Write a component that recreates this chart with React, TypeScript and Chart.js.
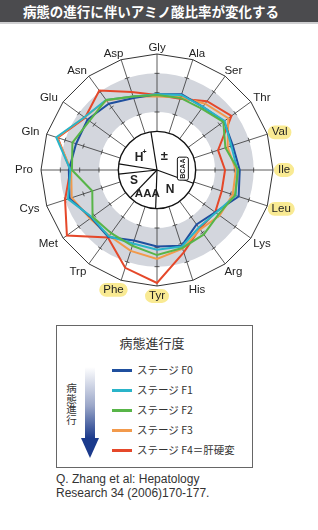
import React, { useEffect, useRef } from 'react';
import { Chart, registerables, RadialLinearScale } from 'chart.js';

// ---------- data ----------
const AMINO_ACIDS = ['Gly', 'Ala', 'Ser', 'Thr', 'Val', 'Ile', 'Leu', 'Lys', 'Arg', 'His', 'Tyr', 'Phe', 'Trp', 'Met', 'Cys', 'Pro', 'Gln', 'Glu', 'Asn', 'Asp'];
const HIGHLIGHTED_ACIDS = ['Val', 'Ile', 'Leu', 'Tyr', 'Phe'];

const STAGE_F0 = [98, 103, 101, 107, 103, 107, 111, 93, 87, 103, 99, 96, 107, 105, 119, 114, 110, 111, 106, 98];
const STAGE_F1 = [98, 102, 101, 108, 101, 104, 107, 94, 92, 104, 103, 100, 106, 104, 121, 112, 137, 116, 112, 100];
const STAGE_F2 = [97, 98, 98, 106, 93, 105, 106, 98, 103, 106, 110, 103, 101, 103, 88, 110, 115, 108, 112, 100];
const STAGE_F3 = [95, 99, 106, 114, 96, 102, 103, 100, 95, 107, 115, 110, 105, 107, 116, 111, 136, 116, 111, 100];
const STAGE_F4 = [97, 97, 110, 119, 83, 88, 88, 93, 94, 112, 146, 133, 108, 144, 125, 112, 135, 115, 127, 106];

const STAGE_NAMES = ['ステージ F0', 'ステージ F1', 'ステージ F2', 'ステージ F3', 'ステージ F4＝肝硬変'];
const STAGE_VALUES = [STAGE_F0, STAGE_F1, STAGE_F2, STAGE_F3, STAGE_F4];
const STAGE_COLORS = ['#1f4f9e', '#2ab4c9', '#58b548', '#f29a4c', '#e5482a'];
const STAGE_DRAW_ORDER = [2, 1, 0, 3, 4]; // lower = drawn on top

const SCALE_MIN = 0;
const SCALE_MAX = 150;
const CENTER_DISC_VALUE = 50;
const NORMAL_LOW = 75;
const NORMAL_HIGH = 125;
const SPOKE_TICKS = [75, 100, 125];

const PIE_DIVIDERS_DEG = [351, 110, 182, 224, 264, 279];

// ---------- layout / style ----------
const CENTER_X = 157;
const CENTER_Y = 146; // canvas is placed 24px below page top
const RADIUS = 116;
const LABEL_GAP = 5;
const LATIN = "'Liberation Sans Narrow', 'Liberation Sans', Arial, sans-serif";
const LATIN_WIDE = "'Liberation Sans', Arial, sans-serif";
const CJK = "'Noto Sans CJK JP', 'Noto Sans', sans-serif";
const BAND_COLOR = '#d3d6dd';
const PILL_COLOR = '#f9ea93';
const INK = '#222';

class FixedRadialScale extends RadialLinearScale {
  static id = 'fixedRadial';
  static defaults = RadialLinearScale.defaults;

  setCenterPoint() {
    this.xCenter = CENTER_X;
    this.yCenter = CENTER_Y;
    this.drawingArea = RADIUS;
  }

  fit() {
    super.fit();
    const self = this as any;
    const items = self._pointLabelItems;
    if (!items) return;
    for (let i = 0; i < items.length; i++) {
      const it = items[i];
      const w = it.right - it.left;
      const h = it.bottom - it.top;
      const a = this.getIndexAngle(i);
      const sx = Math.sin(a);
      const sy = -Math.cos(a);
      const v = this.getPointPosition(i, this.drawingArea);
      const cx = v.x + LABEL_GAP * sx + (sx * w) / 2 + (sx < -0.1 ? -3 : 0);
      const cy = v.y + LABEL_GAP * sy + (sy > 0 ? sy * 5 : sy * 1);
      items[i] = {
        ...it,
        x: cx,
        y: cy - h / 2,
        textAlign: 'center',
        left: cx - w / 2,
        right: cx + w / 2,
        top: cy - h / 2,
        bottom: cy + h / 2,
      };
    }
  }
}

Chart.register(...registerables, FixedRadialScale);

function polar(s: any, deg: number, r: number) {
  const a = ((deg - 90) * Math.PI) / 180;
  return { x: s.xCenter + r * Math.cos(a), y: s.yCenter + r * Math.sin(a) };
}

const decorPlugin = {
  id: 'decor',
  beforeDraw(chart: any) {
    const s = chart.scales.r;
    const ctx = chart.ctx;
    const r1 = s.getDistanceFromCenterForValue(NORMAL_LOW);
    const r2 = s.getDistanceFromCenterForValue(NORMAL_HIGH);
    ctx.save();
    ctx.beginPath();
    ctx.arc(s.xCenter, s.yCenter, r2, 0, Math.PI * 2);
    ctx.arc(s.xCenter, s.yCenter, r1, 0, Math.PI * 2, true);
    ctx.fillStyle = BAND_COLOR;
    ctx.fill('evenodd');
    ctx.restore();
  },
  beforeDatasetsDraw(chart: any) {
    const s = chart.scales.r;
    const ctx = chart.ctx;
    ctx.save();
    // small ticks across each spoke
    ctx.strokeStyle = '#333';
    ctx.lineWidth = 0.8;
    for (let i = 0; i < AMINO_ACIDS.length; i++) {
      for (const v of SPOKE_TICKS) {
        const p = s.getPointPosition(i, s.getDistanceFromCenterForValue(v));
        const nx = -Math.sin(p.angle) * 2.5;
        const ny = Math.cos(p.angle) * 2.5;
        ctx.beginPath();
        ctx.moveTo(p.x - nx, p.y - ny);
        ctx.lineTo(p.x + nx, p.y + ny);
        ctx.stroke();
      }
    }
    // center disc
    const r0 = s.getDistanceFromCenterForValue(CENTER_DISC_VALUE);
    ctx.beginPath();
    ctx.arc(s.xCenter, s.yCenter, r0, 0, Math.PI * 2);
    ctx.fillStyle = '#fff';
    ctx.fill();
    ctx.lineWidth = 1.4;
    ctx.strokeStyle = '#111';
    ctx.stroke();
    ctx.lineWidth = 1.2;
    for (const d of PIE_DIVIDERS_DEG) {
      const p = polar(s, d, r0);
      ctx.beginPath();
      ctx.moveTo(s.xCenter, s.yCenter);
      ctx.lineTo(p.x, p.y);
      ctx.stroke();
    }
    // BCAA box
    const bc = polar(s, 87, r0 * 0.67);
    const bw = 11;
    const bh = 23;
    ctx.beginPath();
    ctx.roundRect(bc.x - bw / 2, bc.y - bh / 2, bw, bh, 2);
    ctx.fillStyle = '#fff';
    ctx.fill();
    ctx.lineWidth = 1;
    ctx.stroke();
    ctx.save();
    ctx.translate(bc.x, bc.y);
    ctx.rotate(-Math.PI / 2);
    ctx.fillStyle = INK;
    ctx.font = `bold 7px ${LATIN}`;
    ctx.textAlign = 'center';
    ctx.textBaseline = 'middle';
    ctx.fillText('BCAA', 0, 0.5);
    ctx.restore();

    ctx.fillStyle = INK;
    ctx.textAlign = 'center';
    ctx.textBaseline = 'middle';
    // H+
    let p = polar(s, 307, r0 * 0.55);
    ctx.font = `bold 12px ${LATIN}`;
    ctx.fillText('H', p.x - 1, p.y);
    ctx.font = `bold 7px ${LATIN}`;
    ctx.fillText('+', p.x + 4.5, p.y - 5);
    // ±
    p = polar(s, 28, r0 * 0.4);
    ctx.font = `bold 13px ${LATIN}`;
    ctx.fillText('±', p.x, p.y);
    // N
    p = polar(s, 147, r0 * 0.62);
    ctx.font = `bold 12px ${LATIN}`;
    ctx.fillText('N', p.x, p.y);
    // AAA
    p = polar(s, 202, r0 * 0.67);
    ctx.font = `bold 11.5px ${LATIN}`;
    ctx.fillText('AAA', p.x, p.y);
    // S
    p = polar(s, 244, r0 * 0.66);
    ctx.font = `bold 12px ${LATIN}`;
    ctx.fillText('S', p.x, p.y);
    ctx.restore();
  },
};

export default function App() {
  const canvasRef = useRef<HTMLCanvasElement>(null);

  useEffect(() => {
    document.body.style.margin = '0';
    const datasets = STAGE_VALUES.map((vals, i) => ({
      label: STAGE_NAMES[i],
      data: vals,
      borderColor: STAGE_COLORS[i],
      backgroundColor: 'rgba(0,0,0,0)',
      borderWidth: 2,
      pointRadius: 0,
      pointHoverRadius: 0,
      fill: false,
      tension: 0,
      order: STAGE_DRAW_ORDER[i],
    }));
    const chart = new Chart(canvasRef.current as HTMLCanvasElement, {
      type: 'radar',
      data: { labels: AMINO_ACIDS, datasets },
      options: {
        animation: false,
        responsive: true,
        maintainAspectRatio: false,
        events: [],
        layout: { padding: 0 },
        plugins: { legend: { display: false }, tooltip: { enabled: false } },
        scales: {
          r: {
            type: 'fixedRadial',
            min: SCALE_MIN,
            max: SCALE_MAX,
            ticks: { display: false, stepSize: 25 },
            grid: {
              circular: false,
              lineWidth: 1,
              color: (c: any) => (c.tick && c.tick.value === SCALE_MAX ? '#333' : 'rgba(0,0,0,0)'),
            },
            angleLines: { display: true, color: '#333', lineWidth: 0.8 },
            pointLabels: {
              display: true,
              color: INK,
              padding: LABEL_GAP,
              font: { family: LATIN, size: 11.5 },
              backdropColor: (c: any) => (HIGHLIGHTED_ACIDS.includes(c.label) ? PILL_COLOR : 'rgba(0,0,0,0)'),
              backdropPadding: { left: 4, right: 4, top: 0, bottom: 0 },
              borderRadius: 7,
            },
          } as any,
        },
      },
      plugins: [decorPlugin],
    } as any);
    return () => chart.destroy();
  }, []);

  return (
    <div style={{ position: 'relative', width: 318, height: 530, background: '#fff', overflow: 'hidden' }}>
      <div
        style={{
          position: 'absolute', left: 0, top: 0, width: 318, height: 22,
          background: '#4b4b4e', borderBottom: '2px solid #cfcfd1',
          color: '#fff', fontFamily: CJK, fontWeight: 'bold', fontSize: 13.5,
          lineHeight: '22px', textAlign: 'center', paddingRight: 16, boxSizing: 'content-box',
          whiteSpace: 'nowrap',
        }}
      >
        <div style={{ width: 302 }}>病態の進行に伴いアミノ酸比率が変化する</div>
      </div>
      <div style={{ position: 'absolute', left: 0, top: 24, width: 318, height: 296 }}>
        <canvas ref={canvasRef} />
      </div>
      <div
        style={{
          position: 'absolute', left: 56, top: 325, width: 195, height: 141,
          border: '1px solid #666', background: '#fff', fontFamily: CJK, color: '#333',
        }}
      >
        <div style={{ position: 'absolute', left: 0, top: 9, width: 190, textAlign: 'center', fontSize: 13, lineHeight: '16px' }}>
          病態進行度
        </div>
        {STAGE_NAMES.map((name, i) => (
          <React.Fragment key={name}>
            <div style={{ position: 'absolute', left: 55, top: 42.5 + 20 * i, width: 20, height: 3, background: STAGE_COLORS[i] }} />
            <div style={{ position: 'absolute', left: 80, top: 36 + 20 * i, fontSize: 10.5, lineHeight: '16px', whiteSpace: 'nowrap' }}>
              {name}
            </div>
          </React.Fragment>
        ))}
        <div
          style={{
            position: 'absolute', left: 28, top: 41, width: 10, height: 71,
            background: 'linear-gradient(to bottom, #ffffff 0%, #9aa6c8 55%, #1b3a8c 100%)',
          }}
        />
        <div
          style={{
            position: 'absolute', left: 24, top: 112, width: 0, height: 0,
            borderLeft: '9.5px solid transparent', borderRight: '9.5px solid transparent',
            borderTop: '20px solid #1b3a8c',
          }}
        />
        <div
          style={{
            position: 'absolute', left: 9, top: 57, writingMode: 'vertical-rl',
            fontSize: 10.5, lineHeight: '11px', color: '#333',
          }}
        >
          病態進行
        </div>
      </div>
      <div
        style={{
          position: 'absolute', left: 56, top: 472, fontFamily: LATIN_WIDE, fontSize: 12,
          lineHeight: '14px', color: '#333', whiteSpace: 'nowrap',
        }}
      >
        <div>Q. Zhang et al: Hepatology</div>
        <div>Research 34 (2006)170-177.</div>
      </div>
    </div>
  );
}
